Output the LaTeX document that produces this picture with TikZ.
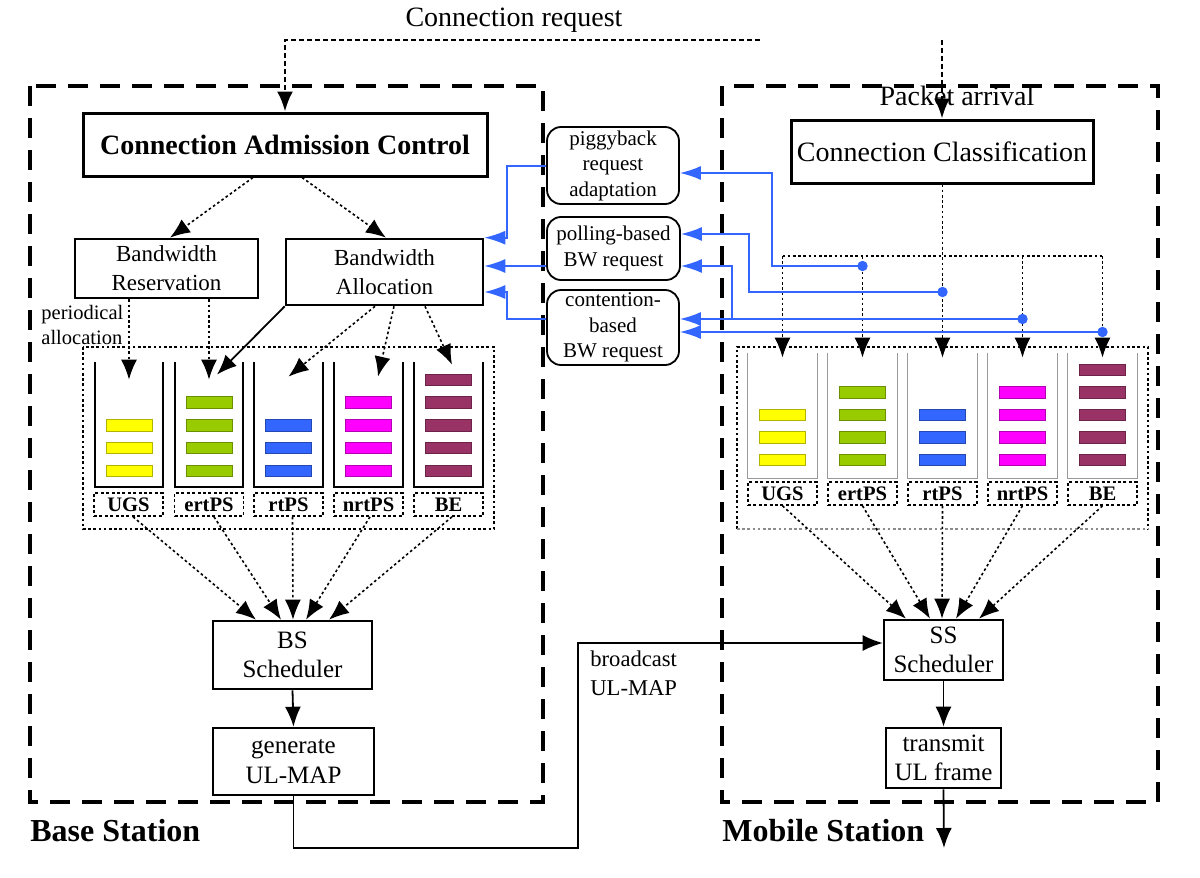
\documentclass[tikz,border=0pt]{standalone}
\usepackage{fontspec}
\setmainfont{Liberation Serif}
\usetikzlibrary{arrows.meta,fit,calc}
\definecolor{bblue}{RGB}{51,102,255}
\definecolor{pY}{RGB}{255,255,0}
\definecolor{pG}{RGB}{153,204,0}
\definecolor{pB}{RGB}{51,102,255}
\definecolor{pM}{RGB}{255,0,255}
\definecolor{pR}{RGB}{153,51,102}
\begin{document}
\begin{tikzpicture}[x=0.5pt,y=-0.5pt,
  bx/.style={draw, line width=1.3pt, inner sep=0pt, align=center},
  rbx/.style={draw, line width=0.9pt, rounded corners=7pt, inner sep=0pt, align=center,
    font=\fontsize{10.5}{12.75}\selectfont},
  lblbox/.style={draw, line width=0.8pt, dash pattern=on 1.5pt off 1.2pt, inner sep=0pt,
    minimum width=34.5pt, minimum height=11.5pt,
    font=\fontsize{10.3}{12}\selectfont\bfseries},
  qb/.style={inner sep=0pt},
  station/.style={line width=1.6pt, dash pattern=on 10pt off 6pt},
  grp/.style={line width=0.7pt, dash pattern=on 1.3pt off 1.3pt},
  dotl/.style={line width=0.8pt, dash pattern=on 1.3pt off 1.3pt},
  tip/.style={-{Latex[length=10pt,width=8pt]}},
  reqline/.style={line width=1.3pt, dash pattern=on 2.5pt off 1.5pt},
  solidarr/.style={line width=0.9pt, -{Latex[length=10pt,width=8pt]}},
  bl/.style={draw=bblue, line width=0.8pt, -{Latex[length=10.5pt,width=7pt]}},
  bdot/.style={fill=bblue},
  lwall/.style={line width=1pt},
  rwall/.style={line width=0.7pt, draw=black!40},
  packet/.style={line width=0.4pt},
  mid/.style={font=\fontsize{12.5}{14.75}\selectfont},
  bwfont/.style={font=\fontsize{11.5}{14.5}\selectfont},
]
\useasboundingbox (0,0) rectangle (1200,878);

% station outlines
\draw[station] (30,86) rectangle (543,802);
\draw[station] (722,86) rectangle (1158,802);

% texts
\node[font=\fontsize{14}{16}\selectfont] (creq) at (514,20) {Connection request};
\node[font=\fontsize{14}{16}\selectfont] (parr) at (957,96) {Packet arrival};
\node[font=\fontsize{16}{18}\selectfont\bfseries, anchor=west, inner sep=0pt] (bst) at (30,831) {Base Station};
\node[font=\fontsize{16}{18}\selectfont\bfseries, anchor=west, inner sep=0pt] (mst) at (722,831) {Mobile Station};
\node[font=\fontsize{10.25}{12.5}\selectfont, align=left, anchor=west, inner sep=0pt] (per) at (41,324.5) {periodical\\allocation};
\node[font=\fontsize{11.3}{14.5}\selectfont, align=left, anchor=west, inner sep=0pt] (bct) at (590,673.5) {broadcast\\UL-MAP};

% main boxes
\node[bx, line width=1.5pt, minimum width=202pt, minimum height=31.5pt, font=\fontsize{14}{16}\selectfont\bfseries] (cac) at (285,144.5) {Connection Admission Control};
\node[bx, line width=1.5pt, minimum width=151pt, minimum height=31.5pt, font=\fontsize{14}{16}\selectfont] (cc) at (942,151.5) {Connection Classification};
\node[bx, minimum width=91.5pt, minimum height=29.5pt, bwfont] (bwr) at (166.5,268.5) {Bandwidth\\Reservation};
\node[bx, minimum width=98.5pt, minimum height=33pt, bwfont] (bwa) at (384.5,272) {Bandwidth\\Allocation};
\node[rbx, minimum width=66pt, minimum height=38.5pt] (pig) at (613,165.5) {piggyback\\request\\adaptation};
\node[rbx, minimum width=66.5pt, minimum height=31.5pt] (poll) at (613.5,248.5) {polling-based\\BW request};
\node[rbx, minimum width=66pt, minimum height=37.5pt] (cont) at (613,327.5) {contention-\\based\\BW request};
\node[bx, minimum width=79.5pt, minimum height=34pt, mid] (bss) at (292.5,655) {BS\\Scheduler};
\node[bx, minimum width=80.5pt, minimum height=33.5pt, mid] (gen) at (293.5,761.5) {generate\\UL-MAP};
\node[bx, minimum width=59.5pt, minimum height=30pt, mid] (ss) at (943.5,650) {SS\\Scheduler};
\node[bx, minimum width=57.5pt, minimum height=30pt, mid] (tx) at (943.5,758) {transmit\\UL frame};

% queue groups
\draw[grp] (83,347) rectangle (494,529);
\draw[grp] (737,529) -- (737,347) -- (1148,347) -- (1148,529);
\draw[grp, draw=black!45] (737,529) -- (1148,529);

% left queues
\foreach \i/\xa/\xb in {1/95/163, 2/175/243, 3/254/323, 4/334/403, 5/414/483}{
  \node[qb, fit={(\xa,362)(\xb,487)}] (lq\i) {};
  \draw[lwall] (lq\i.north west) -- (lq\i.south west) -- (lq\i.south east) -- (lq\i.north east);
}
\node[lblbox] (ll1) at (128.5,504.5) {UGS};
\node[lblbox] (ll2) at (209,504.5) {ertPS};
\node[lblbox] (ll3) at (288.5,504.5) {rtPS};
\node[lblbox] (ll4) at (368.5,504.5) {nrtPS};
\node[lblbox] (ll5) at (448.5,504.5) {BE};

% right queues
\foreach \i/\xa/\xb in {1/748/817, 2/828/897, 3/908/977, 4/988/1057, 5/1068/1137}{
  \node[qb, fit={(\xa,353)(\xb,478)}] (rq\i) {};
  \draw[rwall] (rq\i.north west) -- (rq\i.south west) -- (rq\i.south east) -- (rq\i.north east);
}
\node[lblbox] (rl1) at (782.5,493.5) {UGS};
\node[lblbox] (rl2) at (862.5,493.5) {ertPS};
\node[lblbox] (rl3) at (942.5,493.5) {rtPS};
\node[lblbox] (rl4) at (1022.5,493.5) {nrtPS};
\node[lblbox] (rl5) at (1102.5,493.5) {BE};

% packets
\foreach \cx/\col/\first in {129/pY/3, 209/pG/2, 288.5/pB/3, 368.5/pM/2, 448.5/pR/1}{
  \foreach \r in {\first,...,5}{
    \pgfmathsetmacro\ty{374+(\r-1)*22.75}
    \filldraw[packet, fill=\col, draw=\col!70!black] (\cx-23,\ty) rectangle (\cx+23,\ty+11.5);
  }
}
\foreach \cx/\col/\first in {782.5/pY/3, 862.5/pG/2, 942.5/pB/3, 1022.5/pM/2, 1102.5/pR/1}{
  \foreach \r in {\first,...,5}{
    \pgfmathsetmacro\ty{364+(\r-1)*22.5}
    \filldraw[packet, fill=\col, draw=\col!70!black] (\cx-23,\ty) rectangle (\cx+23,\ty+11.5);
  }
}

% connection request
\coordinate (reqR) at (760,40);
\draw[reqline, tip] (reqR) -| (cac.north);
\coordinate (pktin) at (942,40);
\draw[reqline, tip] (pktin) -- (pktin |- cc.north);

% CAC to bandwidth boxes
\draw[dotl, tip] ($(cac.south)+(-32,0)$) -- ($(bwr.north)+(3.5,0)$);
\draw[dotl, tip] ($(cac.south)+(17,0)$) -- ($(bwa.north)+(1.5,0)$);

% bandwidth boxes to queues
\draw[dotl, tip] (bwr.south -| lq1.north) -- ($(lq1.north)+(0,18)$);
\draw[dotl, tip] (bwr.south -| lq2.north) -- ($(lq2.north)+(0,18)$);
\draw[solidarr] (bwa.south west) -- ($(lq2.north)+(8,13)$);
\draw[dotl, tip] ($(bwa.south)+(-9.5,0)$) -- ($(lq3.north)+(0,15)$);
\draw[dotl, tip] ($(bwa.south)+(9.5,0)$) -- ($(lq4.north)+(9.5,15)$);
\draw[dotl, tip] ($(bwa.south)+(40.5,0)$) -- ($(lq5.north)+(3.5,3)$);

% queues to BS scheduler
\draw[dotl, tip] ($(ll1.south)+(4.5,0)$) -- ($(bss.north)+(-36.5,0)$);
\draw[dotl, tip] ($(ll2.south)+(5,0)$) -- ($(bss.north)+(-11.5,0)$);
\draw[dotl, tip] ($(ll3.south)+(4,0)$) -- ($(bss.north)+(0.5,0)$);
\draw[dotl, tip] ($(ll4.south)+(1.5,0)$) -- ($(bss.north)+(13.5,0)$);
\draw[dotl, tip] ($(ll5.south)+(3.5,0)$) -- ($(bss.north)+(36.5,0)$);

% queues to SS scheduler
\draw[dotl, tip] (rl1.south) -- ($(ss.north)+(-37.5,0)$);
\draw[dotl, tip] (rl2.south) -- ($(ss.north)+(-13.5,0)$);
\draw[dotl, tip] (rl3.south) -- ($(ss.north)+(-1.5,0)$);
\draw[dotl, tip] (rl4.south) -- ($(ss.north)+(12.5,0)$);
\draw[dotl, tip] (rl5.south) -- ($(ss.north)+(35.5,0)$);

% schedulers
\draw[solidarr] (bss.south) -- (gen.north);
\draw[solidarr] (ss.south) -- (tx.north);
\coordinate (out) at (944,848);
\draw[solidarr] (tx.south) -- (out);
\coordinate (bc1) at (578,848);
\coordinate (bc2) at (578,643);
\draw[line width=0.7pt, -{Latex[length=10pt,width=8pt]}] (gen.south) |- (bc1) -- (bc2) -- (bc2 -| ss.west);

% classification distribution
\coordinate (hub) at (942,256);
\draw[dotl, line width=0.6pt, tip] (cc.south -| rq3.north) -- ($(rq3.north)+(0,5)$);
\draw[dotl] (rq1.north |- hub) -- (rq5.north |- hub);
\draw[dotl, tip] (rq1.north |- hub) -- ($(rq1.north)+(0,5)$);
\draw[dotl, tip] (rq2.north |- hub) -- ($(rq2.north)+(0,5)$);
\draw[dotl, tip] (rq4.north |- hub) -- ($(rq4.north)+(0,5)$);
\draw[dotl, tip] (rq5.north |- hub) -- ($(rq5.north)+(0,5)$);

% blue request lines (mobile side)
\coordinate (d1) at (862.5,266);
\coordinate (d2) at (942.5,292);
\coordinate (d3) at (1022.5,319);
\coordinate (d4) at (1102.5,332);
\coordinate (b1) at (772,173);
\coordinate (b2) at (749,234);
\coordinate (b3) at (732,266);
\draw[bl] (d1) -| (b1) -- (b1 -| pig.east);
\draw[bl] (d2) -| (b2) -- (b2 -| poll.east);
\draw[bl] (d3) -- (d3 -| cont.east);
\draw[bl] (b3 |- d3) -- (b3) -- (b3 -| poll.east);
\draw[bl] (d4) -- (d4 -| cont.east);
\foreach \d in {d1,d2,d3,d4}{\fill[bdot] (\d) circle (2.6pt);}

% blue lines (base station side)
\coordinate (a1) at (507,166);
\coordinate (a2) at (520,266);
\coordinate (a3) at (507,319);
\coordinate (a3t) at (507,292);
\draw[bl] (a1 -| pig.west) -- (a1) |- (bwa.north east);
\draw[bl] (a2 -| poll.west) -- (a2 -| bwa.east);
\draw[bl] (a3 -| cont.west) -- (a3) -- (a3t) -- (a3t -| bwa.east);
\end{tikzpicture}
\end{document}
